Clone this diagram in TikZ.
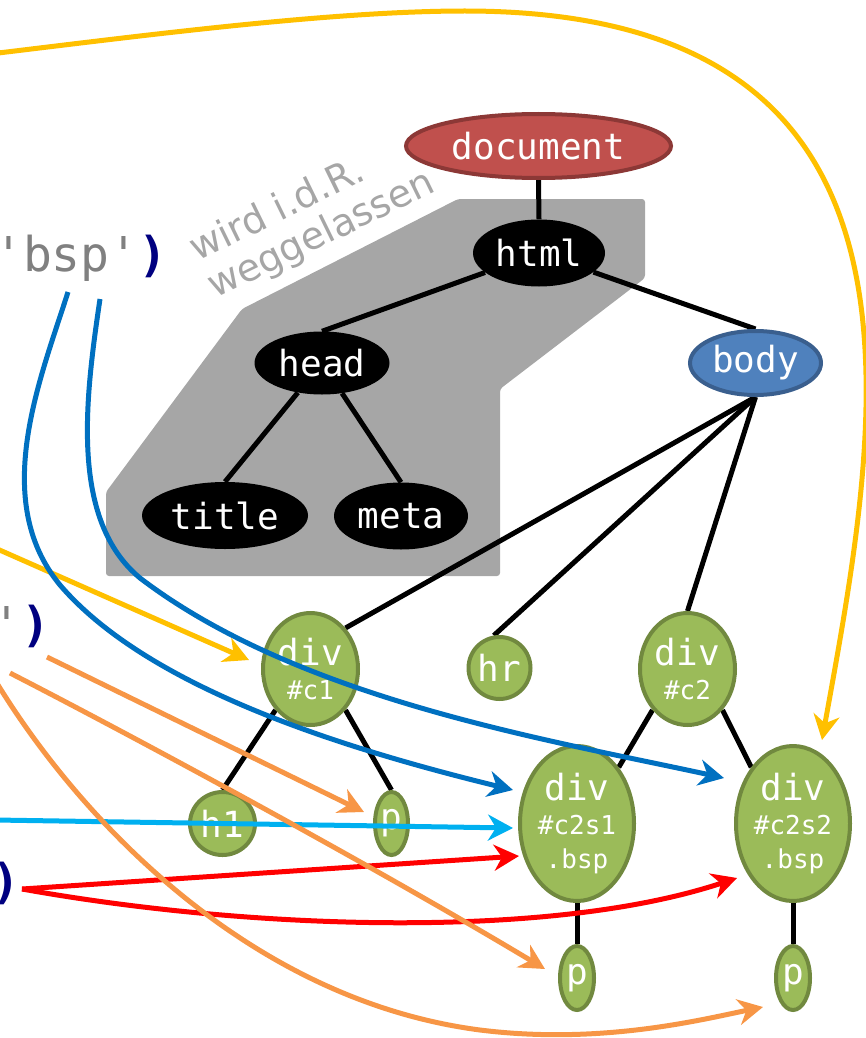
\documentclass[tikz,border=0pt]{standalone}
\usepackage{fontspec}
\setmainfont{DejaVu Sans}
\setmonofont{DejaVu Sans Mono}
\usetikzlibrary{shapes.geometric,arrows.meta,backgrounds}
\definecolor{docred}{HTML}{C0504D}
\definecolor{docredd}{HTML}{8C3836}
\definecolor{bodyblue}{HTML}{4F81BD}
\definecolor{bodyblued}{HTML}{3A5F8E}
\definecolor{grn}{HTML}{9BBB59}
\definecolor{grnd}{HTML}{71893F}
\definecolor{grayfill}{HTML}{A6A6A6}
\definecolor{notegray}{HTML}{A6A6A6}
\definecolor{ayellow}{HTML}{FFC000}
\definecolor{ablue}{HTML}{0070C0}
\definecolor{alblue}{HTML}{00B0F0}
\definecolor{aorange}{HTML}{F79646}
\definecolor{ared}{HTML}{FF0000}
\definecolor{navyc}{HTML}{000080}
\definecolor{codegray}{HTML}{808080}
\newcommand\subt[1]{{\fontsize{26}{34}\selectfont #1}}
\begin{document}
\begin{tikzpicture}[x=1pt,y=-1pt,
  tn/.style={ellipse, inner sep=0pt, align=center, text=white,
    font=\ttfamily\fontsize{36}{34}\selectfont},
  blk/.style={tn, fill=black, minimum height=67pt},
  grnode/.style={tn, fill=grn, draw=grnd, line width=4pt},
  tree/.style={line width=5pt, black},
  arr/.style={line width=5pt, -{Stealth[length=25pt,width=26pt,inset=8pt]}},
  code/.style={font=\ttfamily\fontsize{48}{48}\selectfont, anchor=base west, inner sep=0pt},
  note/.style={font=\fontsize{38}{38}\selectfont, text=notegray, anchor=base west, inner sep=0pt, rotate=26}
]
\useasboundingbox (0,0) rectangle (866,1038);
\clip (0,0) rectangle (866,1038);

% tree nodes
\node[tn, fill=docred, draw=docredd, line width=4pt, minimum width=265pt, minimum height=64pt] (doc) at (538.5,146) {document};
\node[blk, minimum width=132pt] (html) at (539,253) {html};
\node[blk, minimum width=135pt, minimum height=63pt] (head) at (322,363) {head};
\node[tn, fill=bodyblue, draw=bodyblued, line width=4pt, minimum width=131pt, minimum height=64pt] (body) at (755.5,363) {body};
\node[blk, minimum width=166pt] (title) at (225,515.5) {title};
\node[blk, minimum width=134pt] (meta) at (401,516) {meta};
\node[grnode, minimum width=95pt, minimum height=112pt] (c1) at (310.5,669) {div\\\subt{\#c1}};
\node[grnode, minimum width=62pt, minimum height=62pt] (hr) at (499.5,668) {hr};
\node[grnode, minimum width=95pt, minimum height=112pt] (c2) at (687.5,669) {div\\\subt{\#c2}};
\node[grnode, minimum width=65pt, minimum height=63pt] (h1) at (222.5,823.5) {h1};
\node[grnode, minimum width=33pt, minimum height=63pt] (p1) at (391.5,823.5) {p};
\node[grnode, minimum width=114pt, minimum height=155pt] (c2s1) at (577,823.5) {div\\\subt{\#c2s1}\\\subt{.bsp}};
\node[grnode, minimum width=114pt, minimum height=155pt] (c2s2) at (793,823.5) {div\\\subt{\#c2s2}\\\subt{.bsp}};
\node[grnode, minimum width=34pt, minimum height=64pt] (p2) at (577,978) {p};
\node[grnode, minimum width=34pt, minimum height=64pt] (p3) at (793,978) {p};

\begin{scope}[on background layer]
  \fill[grayfill, rounded corners=3pt] (458,199) -- (645,199) -- (645,278) -- (500,389) -- (500,576) -- (106,576) -- (106,492) -- (242,309) -- cycle;
  \draw[tree] (doc.south) -- (html.north);
  \draw[tree] (html) -- (head.north);
  \draw[tree] (html) -- (body.north);
  \draw[tree] (head) -- (title.north);
  \draw[tree] (head) -- (meta.north);
  \draw[tree] (body.south) -- (c1.north east);
  \draw[tree] (body.south) -- (hr.100);
  \draw[tree] (body.south) -- (c2.north);
  \draw[tree] (c1.south west) -- (h1.north);
  \draw[tree] (c1.south east) -- (p1.north);
  \draw[tree] (c2.south west) -- (c2s1.north east);
  \draw[tree] (c2.south east) -- (c2s2.north west);
  \draw[tree] (c2s1.south) -- (p2.north);
  \draw[tree] (c2s2.south) -- (p3.north);
\end{scope}

% note
\node[note] (n1) at (197,262) {wird i.d.R.};
\node[note] (n2) at (215,299) {weggelassen};

% code fragments on the left
\node[code] (t1) at (-6,271) {\textcolor{codegray}{'bsp'}\textcolor{navyc}{\bfseries )}};
\node[code] (t2) at (-8,641) {\textcolor{codegray}{'}\textcolor{navyc}{\bfseries )}};
\node[code] (t3) at (-9,898) {\textcolor{navyc}{\bfseries )}};

% arrow end points
\coordinate (y1s) at (-10,54);
\coordinate (y1e) at (822,740);
\coordinate (y2s) at (-5,548);
\coordinate (y2e) at (249,660);
\coordinate (b1s) at (68,292);
\coordinate (b1e) at (513,790);
\coordinate (b2s) at (100,299);
\coordinate (b2e) at (724,778);
\coordinate (lbs) at (-5,820);
\coordinate (lbe) at (513,828);
\coordinate (rs) at (22,889);
\coordinate (r1e) at (519,856);
\coordinate (r2e) at (737,878);
\coordinate (oas) at (47,657);
\coordinate (oae) at (364,812);
\coordinate (obs) at (10,673);
\coordinate (obe) at (545,969);
\coordinate (ocs) at (-5,680);
\coordinate (oce) at (763,1007);

\draw[arr, ayellow] (y1s) .. controls (140,36) and (330,11) .. (465,11) .. controls (960,11) and (880,420) .. (y1e);
\draw[arr, ayellow] (y2s) -- (y2e);
\draw[arr, ablue] (b1s) .. controls (40,380) and (-10,500) .. (60,585) .. controls (150,690) and (350,750) .. (b1e);
\draw[arr, ablue] (b2s) .. controls (85,400) and (70,520) .. (140,578) .. controls (300,700) and (550,740) .. (b2e);
\draw[arr, alblue] (lbs) -- (lbe);
\draw[arr, ared] (rs) -- (r1e);
\draw[arr, ared] (rs) .. controls (250,930) and (550,940) .. (r2e);
\draw[arr, aorange] (oas) -- (oae);
\draw[arr, aorange] (obs) .. controls (150,745) and (380,870) .. (obe);
\draw[arr, aorange] (ocs) .. controls (80,820) and (250,1000) .. (480,1030) .. controls (600,1045) and (700,1020) .. (oce);
\end{tikzpicture}
\end{document}
